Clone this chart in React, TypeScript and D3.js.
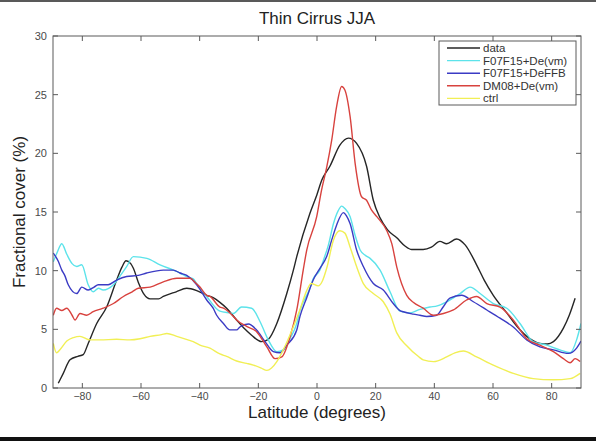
import React from "react";
import * as d3 from "d3";

// Zonal-mean thin cirrus fractional cover (%), June-July-August, by latitude.
type Pt = [number, number];

const obsCover: Pt[] = [
  [-88.2, 0.4], [-86.5, 1.25], [-84.2, 2.4], [-81.5, 2.7], [-79.7, 2.85], [-78, 3.8],
  [-75.1, 5.5], [-71.7, 6.9], [-68.3, 9.2], [-66.5, 10.3], [-65.1, 10.85], [-63.5, 10.6],
  [-62.6, 10.2], [-60.9, 9.0], [-59, 8.0], [-56.9, 7.6], [-54, 7.6], [-52.4, 7.8],
  [-48, 8.2], [-44.4, 8.5], [-41, 8.3], [-37.6, 7.9], [-35.4, 7.7], [-33.1, 7.3],
  [-30.8, 6.8], [-27.4, 5.8], [-24.5, 5.0], [-22.3, 4.5], [-18.9, 3.95], [-16.6, 4.15],
  [-13.7, 5.5], [-10.3, 8.05], [-8.1, 10.0], [-6.9, 11.2], [-2.4, 14.9], [0, 16.5],
  [1.6, 17.7], [4.4, 18.9], [7.8, 20.7], [10.7, 21.3], [13.5, 20.85], [16.9, 18.9],
  [19.2, 16.0], [21.5, 14.5], [24, 13.5], [27.2, 12.8], [30, 12.1], [32.3, 11.8],
  [36.2, 11.8], [39, 12.0], [41.9, 12.5], [44.2, 12.3], [47.6, 12.7], [50.5, 12.2],
  [54.4, 10.5], [57, 9.2], [60.1, 7.9], [64.7, 6.4], [68, 5.3], [71.5, 4.4],
  [76, 3.8], [78.5, 3.75], [80.6, 3.95], [84, 5.1], [86, 6.2], [88, 7.65],
];

const f07f15VmCover: Pt[] = [
  [-89.9, 10.75], [-88.5, 11.6], [-87, 12.3], [-85.3, 11.4], [-83.5, 10.6], [-81.9, 10.35],
  [-80.2, 10.5], [-78, 8.8], [-76.3, 8.2], [-74.5, 8.5], [-72.9, 8.35], [-69.4, 8.8],
  [-67, 9.6], [-64.9, 10.35], [-62.6, 11.2], [-58, 11.05], [-53.5, 10.5], [-49, 10.05],
  [-46.7, 9.8], [-44.4, 9.5], [-42.2, 9.3], [-41, 8.9], [-37.6, 7.8], [-33.1, 6.55],
  [-29.7, 6.4], [-28.5, 6.35], [-25.7, 6.9], [-22.3, 6.8], [-19.4, 5.65], [-16.6, 4.1],
  [-13.7, 3.1], [-11.5, 3.25], [-9, 4.3], [-6.9, 5.5], [-5.8, 6.6], [-2.4, 8.5],
  [-1.3, 9.3], [1, 10.05], [2.2, 10.9], [3.9, 12.2], [5.6, 14.0], [7.2, 15.1],
  [8.4, 15.5], [9.5, 15.3], [11.3, 14.6], [13, 13.0], [14.7, 11.76], [16.5, 11.3],
  [18.1, 11.05], [21.5, 10.05], [24.9, 8.2], [28.3, 6.55], [31.7, 6.4], [35.1, 6.7],
  [38.5, 6.9], [41, 7.0], [44.2, 7.35], [48.8, 8.05], [52.2, 8.6], [55.6, 8.05],
  [60.1, 7.2], [64.7, 6.8], [69.2, 5.5], [73.7, 3.95], [78.3, 3.65], [82.8, 3.25],
  [86.3, 3.0], [88.5, 4.1], [90, 5.5],
];

const f07f15FfbCover: Pt[] = [
  [-89.9, 11.5], [-88.2, 10.8], [-87, 10.05], [-86, 9.6], [-84.8, 8.8], [-81.9, 8.05],
  [-80.2, 8.6], [-78, 8.35], [-76, 8.6], [-74.6, 8.8], [-71.2, 8.8], [-68.3, 9.2],
  [-64.9, 9.5], [-60.9, 9.6], [-58.1, 9.8], [-52.4, 10.05], [-49, 10.05], [-46.7, 9.8],
  [-44.4, 9.6], [-41, 8.8], [-39.9, 8.4], [-37.6, 7.5], [-35.4, 6.8], [-34.2, 6.2],
  [-31.9, 5.5], [-29.7, 4.95], [-27.4, 4.95], [-26.3, 5.2], [-23.4, 5.45], [-20.6, 4.95],
  [-17.7, 3.95], [-14.9, 3.1], [-12.6, 3.0], [-10.3, 3.65], [-6.9, 4.95], [-5.8, 6.1],
  [-3.5, 7.7], [-1.3, 9.2], [1, 10.2], [3.3, 11.2], [5, 12.6], [6.7, 13.9],
  [9, 14.95], [10, 14.7], [11.3, 14.0], [13.5, 11.76], [15.8, 10.35], [19.2, 8.9],
  [22.6, 8.35], [26, 7.2], [28.3, 6.6], [29.4, 6.5], [32.8, 6.3], [35.1, 6.2],
  [37.4, 6.1], [40.8, 6.2], [43, 6.9], [45.3, 7.65], [49.3, 7.9], [53.3, 7.35],
  [57.9, 6.65], [62.4, 5.95], [66.9, 5.2], [71.5, 4.1], [76, 3.5], [80.6, 3.25],
  [85.7, 2.95], [88.5, 3.4], [90, 4.0],
];

const dm08VmCover: Pt[] = [
  [-89.9, 6.2], [-88.8, 6.8], [-87, 6.6], [-85.3, 6.8], [-83.5, 6.2], [-82.5, 5.8],
  [-80.8, 6.35], [-78.5, 6.2], [-76.3, 6.5], [-72.9, 6.8], [-69.4, 7.2], [-66, 7.8],
  [-63, 8.2], [-60.9, 8.5], [-56.9, 8.6], [-52.4, 9.05], [-47.8, 9.35], [-43.3, 9.35],
  [-41.5, 9.0], [-39.9, 8.6], [-37.6, 7.9], [-36.5, 7.8], [-33.1, 6.9], [-31.9, 6.8],
  [-28.5, 6.1], [-27.4, 5.8], [-24, 5.25], [-20.6, 4.8], [-17.1, 3.5], [-14.3, 2.5],
  [-12, 2.65], [-9.2, 4.35], [-6.9, 6.65], [-4.7, 10.05], [-3.5, 11.76], [-0.1, 14.6],
  [1.5, 16.8], [3.3, 18.8], [5, 21.1], [6.7, 24.0], [8.4, 25.7], [9.5, 25.4],
  [11.3, 23.1], [13, 19.15], [15.2, 16.3], [16.9, 16.0], [18.5, 15.2], [20.4, 14.6],
  [23.8, 13.4], [25.5, 12.3], [27.2, 10.3], [30.6, 7.9], [32.8, 7.3], [36.2, 6.8],
  [39.7, 6.2], [43.1, 6.35], [46.5, 6.65], [51, 7.5], [54.4, 7.8], [57.9, 7.2],
  [62.4, 6.9], [66.9, 5.8], [71.5, 4.2], [76, 3.65], [80.6, 3.1], [84, 2.5],
  [86.3, 2.15], [88, 2.5], [89.7, 2.25],
];

const ctrlCover: Pt[] = [
  [-89.9, 3.8], [-88.8, 3.0], [-87.5, 3.3], [-85.3, 4.0], [-83, 4.3], [-80.8, 4.4],
  [-77.4, 4.1], [-73.9, 4.1], [-68.3, 4.15], [-63.8, 4.1], [-60.3, 4.2], [-56.9, 4.4],
  [-53, 4.55], [-51.2, 4.65], [-47.8, 4.4], [-44, 4.1], [-42.2, 3.95], [-39.9, 3.65],
  [-36.5, 3.4], [-33.1, 2.9], [-30.8, 2.7], [-27.4, 2.3], [-24, 2.1], [-21.7, 1.95],
  [-19, 1.7], [-17.1, 1.5], [-15.5, 1.7], [-13.7, 2.25], [-11.5, 3.25], [-8.1, 5.2],
  [-5.8, 6.7], [-3.5, 8.3], [-2, 8.9], [0.4, 8.7], [1.8, 9.1], [3.3, 10.2],
  [5.6, 12.6], [7.8, 13.4], [9.5, 13.2], [11.3, 12.0], [13.5, 10.35], [15.8, 8.9],
  [19.2, 8.05], [22.6, 7.35], [24.9, 6.3], [27.2, 4.7], [30.6, 3.6], [34.5, 2.7],
  [36.2, 2.4], [39.7, 2.25], [44.2, 2.65], [47, 3.0], [49.9, 3.15], [54.4, 2.65],
  [60.1, 1.95], [66.9, 1.25], [73.7, 0.8], [80.6, 0.7], [86.3, 0.8], [89.7, 1.25],
];

const seriesNames = ["data", "F07F15+De(vm)", "F07F15+DeFFB", "DM08+De(vm)", "ctrl"];
const seriesValues = [obsCover, f07f15VmCover, f07f15FfbCover, dm08VmCover, ctrlCover];
const seriesColors = ["#262626", "#5ce3ea", "#3b3bc4", "#d8423e", "#f1ef55"];

const xTicks = [-80, -60, -40, -20, 0, 20, 40, 60, 80];
const yTicks = [0, 5, 10, 15, 20, 25, 30];

const W = 596;
const H = 441;
const FONT = "'Liberation Sans', Arial, Helvetica, sans-serif";

export default function App() {
  const left = 53;
  const right = 581;
  const top = 36;
  const bottom = 388;

  const x = d3.scaleLinear().domain([-90, 90]).range([left, right]);
  const y = d3.scaleLinear().domain([0, 30]).range([bottom, top]);

  const line = d3
    .line<Pt>()
    .x((d) => x(d[0]))
    .y((d) => y(d[1]))
    .curve(d3.curveMonotoneX);

  const tickLen = 5;
  const axisColor = "#5a5a5a";
  const labelColor = "#4a4a4a";

  // legend geometry
  const lgX = 439;
  const lgY = 41;
  const lgW = 137;
  const lgH = 64;
  const rowH = 12.6;

  return (
    <svg
      width={W}
      height={H}
      style={{ position: "absolute", left: 0, top: 0, background: "#fff" }}
      fontFamily={FONT}
    >
      <rect x={0} y={0} width={W} height={H} fill="#fff" />
      {/* page frame */}
      <rect x={0} y={0} width={W} height={2} fill="#595959" />
      <rect x={0} y={437} width={W} height={4} fill="#111" />

      {/* title */}
      <text x={(left + right) / 2} y={24} textAnchor="middle" fontSize={17} fill="#222">
        Thin Cirrus JJA
      </text>

      <defs>
        <clipPath id="plotClip">
          <rect x={left} y={top} width={right - left} height={bottom - top} />
        </clipPath>
      </defs>

      {/* series */}
      <g clipPath="url(#plotClip)">
        {seriesValues.map((vals, i) => (
          <path
            key={seriesNames[i]}
            d={line(vals) ?? ""}
            fill="none"
            stroke={seriesColors[i]}
            strokeWidth={1.4}
            strokeLinejoin="round"
          />
        ))}
      </g>

      {/* axes box */}
      <rect
        x={left}
        y={top}
        width={right - left}
        height={bottom - top}
        fill="none"
        stroke={axisColor}
        strokeWidth={1}
      />

      {/* x ticks and labels */}
      {xTicks.map((t) => (
        <g key={`xt${t}`}>
          <line x1={x(t)} x2={x(t)} y1={bottom} y2={bottom - tickLen} stroke={axisColor} />
          <line x1={x(t)} x2={x(t)} y1={top} y2={top + tickLen} stroke={axisColor} />
          <text x={x(t)} y={400} textAnchor="middle" fontSize={10.5} fill={labelColor}>
            {t < 0 ? `\u2212${Math.abs(t)}` : `${t}`}
          </text>
        </g>
      ))}

      {/* y ticks and labels */}
      {yTicks.map((t) => (
        <g key={`yt${t}`}>
          <line x1={left} x2={left + tickLen} y1={y(t)} y2={y(t)} stroke={axisColor} />
          <line x1={right} x2={right - tickLen} y1={y(t)} y2={y(t)} stroke={axisColor} />
          <text x={47} y={y(t) + 4} textAnchor="end" fontSize={11} fill={labelColor}>
            {t}
          </text>
        </g>
      ))}

      {/* axis titles */}
      <text x={(left + right) / 2} y={418} textAnchor="middle" fontSize={17} fill="#222">
        Latitude (degrees)
      </text>
      <text
        transform={`translate(25, ${(top + bottom) / 2}) rotate(-90)`}
        textAnchor="middle"
        fontSize={17}
        fill="#222"
      >
        Fractional cover (%)
      </text>

      {/* legend */}
      <rect x={lgX} y={lgY} width={lgW} height={lgH} fill="#fff" stroke={axisColor} strokeWidth={1} />
      {seriesNames.map((name, i) => {
        const cy = lgY + 7 + i * rowH;
        return (
          <g key={`lg${name}`}>
            <line x1={lgX + 8} x2={lgX + 41} y1={cy} y2={cy} stroke={seriesColors[i]} strokeWidth={1.4} />
            <text x={lgX + 44} y={cy + 4} fontSize={11.5} fill="#333">
              {name}
            </text>
          </g>
        );
      })}
    </svg>
  );
}
